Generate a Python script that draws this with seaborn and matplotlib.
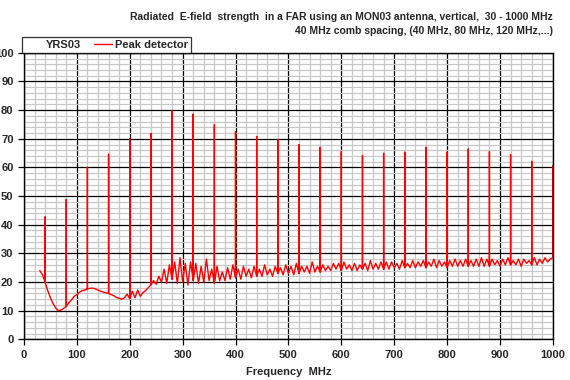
import numpy as np
import pandas as pd
import seaborn as sns
import matplotlib.pyplot as plt
from matplotlib.lines import Line2D
from matplotlib.ticker import MultipleLocator

# Noise floor of the trace, read every 5 MHz from 30 to 1000 MHz (dBuV/m)
floor_freq = np.arange(30, 1001, 5)
floor_level = [
    24.0, 22.5, 20.0, 17.0, 14.5, 12.5, 11.0, 10.0, 10.2, 10.8,
    11.5, 12.8, 13.8, 15.0, 15.6, 16.4, 17.0, 17.2, 17.6, 17.8,
    17.9, 17.6, 17.2, 16.8, 16.5, 16.2, 16.0, 15.6, 15.2, 14.6,
    14.3, 14.0, 14.5, 15.8, 14.2, 16.8, 14.5, 17.2, 15.0, 16.3,
    17.0, 18.0, 19.0, 20.5, 19.2, 22.0, 20.0, 24.5, 19.5, 26.0,
    21.0, 27.0, 19.5, 28.5, 20.0, 26.5, 19.0, 27.0, 20.5, 26.5,
    19.5, 25.5, 20.0, 28.0, 20.5, 24.5, 19.5, 25.5, 20.5, 23.5,
    20.5, 25.0, 21.0, 26.0, 21.5, 24.5, 21.0, 25.5, 22.0, 24.5,
    21.5, 25.5, 22.0, 24.5, 22.0, 26.0, 22.5, 24.5, 22.0, 25.5,
    23.0, 25.0, 22.5, 26.0, 23.0, 25.5, 22.5, 26.5, 23.0, 25.5,
    23.5, 25.5, 23.0, 27.0, 23.5, 25.5, 23.5, 26.0, 24.0, 25.5,
    24.0, 26.5, 24.5, 26.5, 24.0, 27.0, 24.5, 26.0, 24.0, 26.5,
    24.0, 26.0, 24.5, 26.5, 24.0, 27.5, 24.5, 26.5, 24.5, 27.0,
    24.5, 27.0, 24.5, 27.0, 25.0, 26.5, 24.5, 27.5, 25.0, 26.5,
    25.0, 27.5, 25.0, 27.0, 25.5, 27.5, 25.0, 27.0, 25.5, 28.0,
    25.0, 27.5, 25.5, 27.0, 25.0, 27.5, 25.5, 28.0, 25.5, 27.5,
    25.5, 28.0, 25.5, 27.5, 25.5, 28.0, 25.5, 28.5, 25.5, 28.0,
    25.5, 28.0, 26.0, 27.5, 25.5, 28.0, 26.0, 28.5, 26.0, 27.5,
    26.0, 28.0, 25.5, 28.0, 26.5, 27.5, 26.0, 28.5, 26.0, 28.0,
    26.5, 28.5, 27.0, 28.0, 28.5,
]

# Comb lines every 40 MHz and their peak levels
comb_freq = list(range(40, 1001, 40))
comb_level = [
    42.7, 48.8, 60.0, 64.6, 70.0, 71.8, 79.7, 78.6, 74.9, 72.5,
    70.8, 69.6, 67.9, 67.0, 65.5, 64.1, 64.9, 65.3, 67.0, 65.3,
    66.4, 65.5, 64.5, 62.1, 60.6,
]

title_lines = [
    "Radiated  E-field  strength  in a FAR using an MON03 antenna, vertical,  30 - 1000 MHz",
    "40 MHz comb spacing, (40 MHz, 80 MHz, 120 MHz,...)",
]


def build_trace():
    # walk along the noise floor and jump up to the comb peak where there is one
    peaks = dict(zip(comb_freq, comb_level))
    rows = []
    for f, v in zip(floor_freq, floor_level):
        rows.append((f, v))
        if f in peaks:
            rows.append((f, peaks[f]))
            rows.append((f, v))
    return pd.DataFrame(rows, columns=["freq", "level"])


sns.set_style("white")
plt.rcParams['font.family'] = ['Liberation Sans', 'DejaVu Sans']
plt.rcParams['font.weight'] = 'bold'

fig = plt.figure(figsize=(5.7, 3.8), dpi=100)
ax = fig.add_axes([0.042, 0.107, 0.928, 0.754])

df = build_trace()
sns.lineplot(data=df, x="freq", y="level", sort=False, estimator=None,
             color="#ff0000", linewidth=1.0, ax=ax)

ax.set_xlim(0, 1000)
ax.set_ylim(0, 100)
ax.xaxis.set_major_locator(MultipleLocator(100))
ax.xaxis.set_minor_locator(MultipleLocator(20))
ax.yaxis.set_major_locator(MultipleLocator(10))
ax.yaxis.set_minor_locator(MultipleLocator(2))
ax.set_axisbelow(True)
ax.grid(which="minor", color="#c8c8c8", linewidth=0.9)
ax.grid(which="major", color="black", linewidth=0.9)
ax.tick_params(which="major", direction="out", length=4, width=0.9,
               labelsize=8, color="black", left=True, bottom=True)
ax.tick_params(which="minor", length=0)
for lab in ax.get_xticklabels() + ax.get_yticklabels():
    lab.set_fontweight("bold")
for s in ax.spines.values():
    s.set_color("black")
    s.set_linewidth(1.0)

ax.set_xlabel("Frequency  MHz", fontsize=8, fontweight="bold", labelpad=5)
ax.set_ylabel("")

# title lines, right aligned over the plot
fig.text(0.970, 1 - 17 / 380, title_lines[0], ha="right", va="center",
         fontsize=7.5, fontweight="bold")
fig.text(0.970, 1 - 31 / 380, title_lines[1], ha="right", va="center",
         fontsize=7.5, fontweight="bold")

# legend box sitting on top of the axes
handles = [Line2D([], [], linestyle="none"),
           Line2D([], [], color="#ff0000", linewidth=1.0)]
leg = ax.legend(handles, ["YRS03", "Peak detector"], ncol=2,
                loc="lower left", bbox_to_anchor=(-0.004, 1.0),
                frameon=True, fancybox=False, borderaxespad=0,
                handlelength=1.6, handletextpad=0.3, columnspacing=1.2,
                borderpad=0.25, prop={"size": 8, "weight": "bold"})
leg.get_frame().set_edgecolor("black")
leg.get_frame().set_linewidth(0.9)

fig.savefig("out.png", dpi=100)
